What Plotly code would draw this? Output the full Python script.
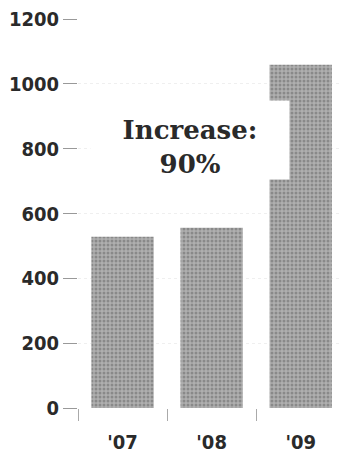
import plotly.graph_objects as go

years = ["'07", "'08", "'09"]
values = [528, 556, 1059]
y_ticks = [0, 200, 400, 600, 800, 1000, 1200]
note_text = "<b>Increase:</b><br><b>90%</b>"

tick_font = dict(family="Liberation Sans Narrow, DejaVu Sans Condensed, sans-serif",
                 size=20, color="#2a2a2a", weight="bold")

fig = go.Figure()
fig.add_trace(go.Bar(
    x=years, y=values,
    marker=dict(color="#a0a0a0", line=dict(width=0),
                pattern=dict(shape=".", fgcolor="#636363", bgcolor="#afafaf", size=4, solidity=0.45)),
    width=0.7,
    hoverinfo="skip",
))

fig.add_annotation(
    x=0.76, y=826, xref="x", yref="y",
    text=note_text, showarrow=False,
    font=dict(family="DejaVu Serif, Liberation Serif, serif", size=26, color="#2a2a2a"),
    bgcolor="white", borderpad=0, align="center",
    width=198, height=78, valign="bottom",
)

fig.update_layout(
    width=339, height=453,
    margin=dict(l=78, r=0, t=19, b=45),
    paper_bgcolor="white", plot_bgcolor="white",
    showlegend=False,
    font=tick_font,
)
fig.update_xaxes(
    range=[-0.5, 2.43], automargin=False,
    showline=False, showgrid=False, zeroline=False,
    ticks="outside", ticklen=12, tickcolor="#aaaaaa", tickwidth=1,
    tickson="boundaries", ticklabelstandoff=20,
    tickfont=tick_font,
)
fig.update_yaxes(
    range=[0, 1200], tickvals=y_ticks, automargin=False,
    showline=False, zeroline=False,
    showgrid=True, gridcolor="#efefef", griddash="dot", gridwidth=1,
    ticks="outside", ticklen=14, tickcolor="#999999", tickwidth=1,
    ticklabelstandoff=0,
    tickfont=tick_font,
)

fig.write_html("out.html", config={"displayModeBar": False},
               post_script="document.body.style.margin='0';")
